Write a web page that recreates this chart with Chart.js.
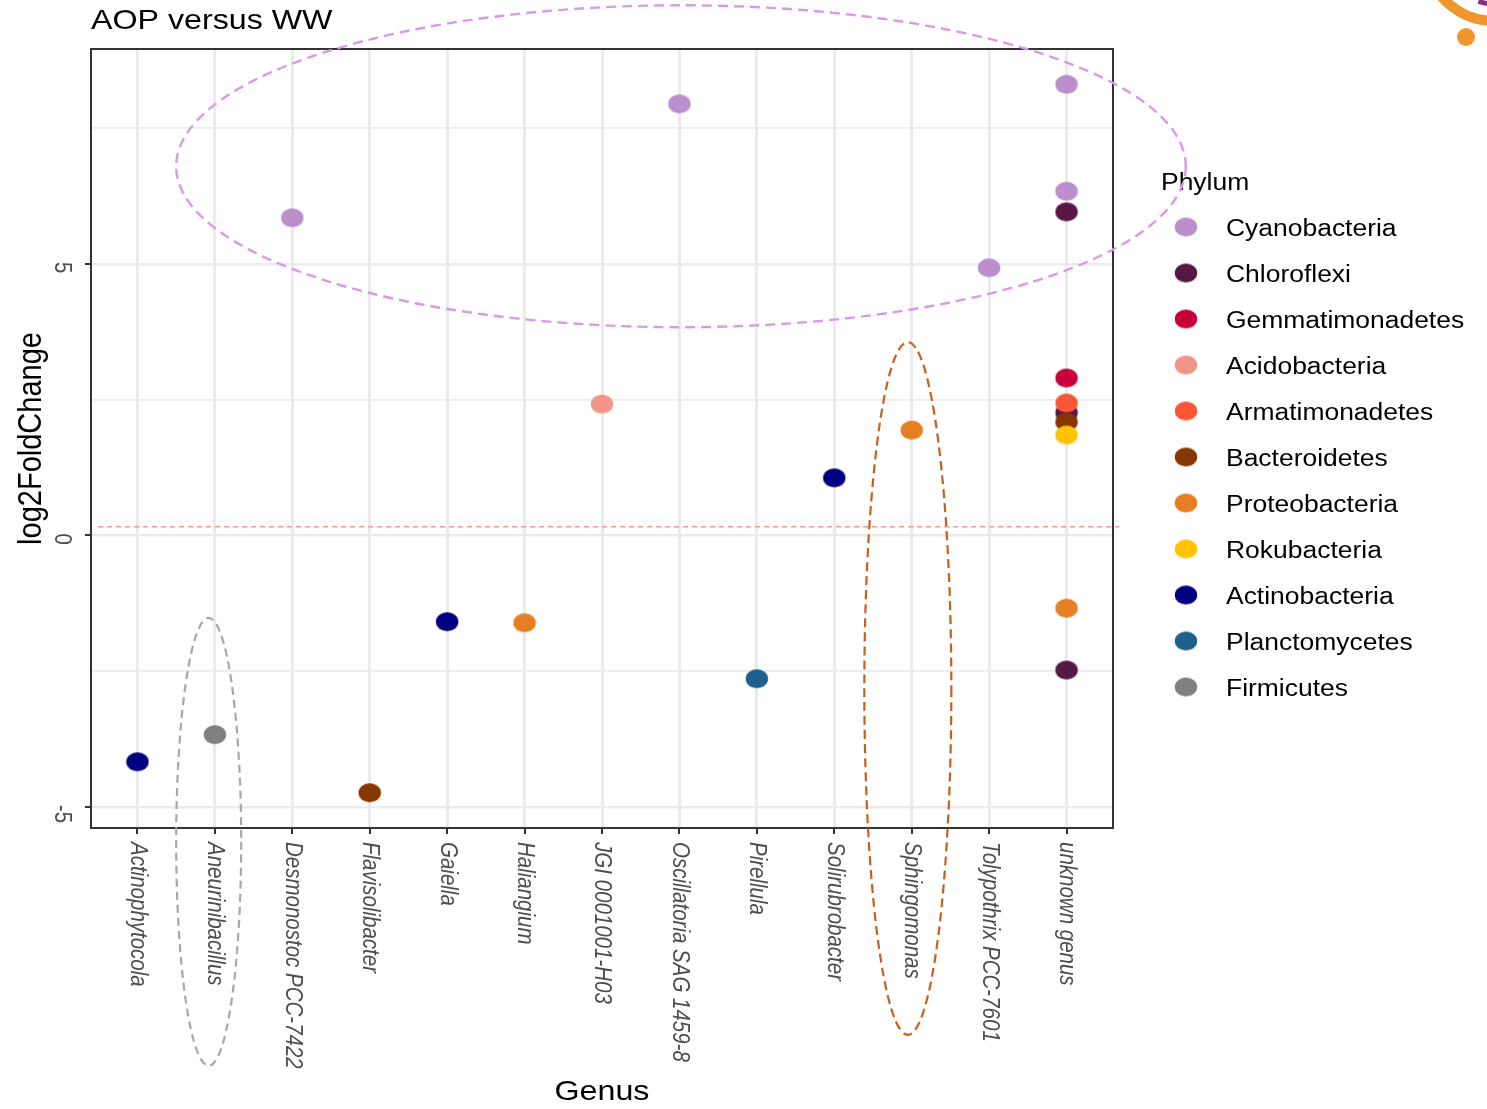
<!DOCTYPE html>
<html>
<head>
<meta charset="utf-8">
<title>AOP versus WW</title>
<script src="https://cdn.jsdelivr.net/npm/chart.js@4/dist/chart.umd.min.js"></script>
<style>
  html, body { margin: 0; padding: 0; background: #ffffff; }
  #wrap { width: 1487px; height: 1109px; position: relative; }
  canvas { display: block; }
</style>
</head>
<body>
<div id="wrap"><canvas id="chart" width="1487" height="1109"></canvas></div>
<script>
// ---- data ---------------------------------------------------------------
const genera = [
  'Actinophytocola', 'Aneurinibacillus', 'Desmonostoc PCC-7422', 'Flavisolibacter',
  'Gaiella', 'Haliangium', 'JGI 0001001-H03', 'Oscillatoria SAG 1459-8',
  'Pirellula', 'Solirubrobacter', 'Sphingomonas', 'Tolypothrix PCC-7601', 'unknown genus'
];

const phyla = [
  'Cyanobacteria', 'Chloroflexi', 'Gemmatimonadetes', 'Acidobacteria', 'Armatimonadetes',
  'Bacteroidetes', 'Proteobacteria', 'Rokubacteria', 'Actinobacteria', 'Planctomycetes', 'Firmicutes'
];

const phylumColors = [
  '#BB8ECC', '#581845', '#C70039', '#F1948A', '#FF5733',
  '#873600', '#E67E22', '#FFC300', '#000080', '#1F618D', '#808080'
];

// one entry per significant ASV
const pointGenus = [
  'Actinophytocola', 'Aneurinibacillus', 'Desmonostoc PCC-7422', 'Flavisolibacter',
  'Gaiella', 'Haliangium', 'JGI 0001001-H03', 'Oscillatoria SAG 1459-8',
  'Pirellula', 'Solirubrobacter', 'Sphingomonas', 'Tolypothrix PCC-7601',
  'unknown genus', 'unknown genus', 'unknown genus', 'unknown genus', 'unknown genus',
  'unknown genus', 'unknown genus', 'unknown genus', 'unknown genus', 'unknown genus'
];
const pointPhylum = [
  'Actinobacteria', 'Firmicutes', 'Cyanobacteria', 'Bacteroidetes',
  'Actinobacteria', 'Proteobacteria', 'Acidobacteria', 'Cyanobacteria',
  'Planctomycetes', 'Actinobacteria', 'Proteobacteria', 'Cyanobacteria',
  'Cyanobacteria', 'Cyanobacteria', 'Chloroflexi', 'Gemmatimonadetes', 'Armatimonadetes',
  'Chloroflexi', 'Bacteroidetes', 'Rokubacteria', 'Proteobacteria', 'Chloroflexi'
];
const pointLog2FC = [
  -4.17, -3.67, 5.85, -4.74,
  -1.59, -1.61, 2.42, 7.95,
  -2.64, 1.06, 1.94, 4.93,
  8.31, 6.34, 5.96, 2.90, 2.44,
  2.26, 2.09, 1.85, -1.34, -2.48
];

const yTicks = [-5, -2.5, 0, 2.5, 5, 7.5];
const yTickLabels = ['-5', '0', '5'];
const yLimits = [-5.39, 8.96];
const thresholdLog2FC = 0.16;

// highlighted groups: centre and half-extent in axis units (x = genus position, y = log2FC)
const highlightGroups = [
  { cx: 8.02, cy: 6.80, rx: 6.52, ry: 2.965, color: '#DC98E8', width: 2.4, dash: [10, 6] },
  { cx: 1.92, cy: -5.645, rx: 0.42, ry: 4.125, color: '#A8A8A8', width: 2.2, dash: [8, 5] },
  { cx: 10.95, cy: -2.82, rx: 0.562, ry: 6.38, color: '#C8601C', width: 2.2, dash: [9, 5] }
];

// ---- helpers ------------------------------------------------------------
const FONT = '"Liberation Sans", Arial, Helvetica, sans-serif';
const STRETCH = 1.15;

function dotImage(color) {
  const c = document.createElement('canvas');
  c.width = 24; c.height = 21;
  const g = c.getContext('2d');
  g.fillStyle = color;
  g.beginPath();
  g.ellipse(12, 10.5, 11.2, 9.6, 0, 0, Math.PI * 2);
  g.fill();
  return c;
}
const dotImages = phylumColors.map(dotImage);

function drawText(ctx, text, x, y, o) {
  ctx.save();
  ctx.font = o.font;
  ctx.fillStyle = o.color || '#000';
  ctx.textAlign = o.align || 'left';
  ctx.textBaseline = o.baseline || 'alphabetic';
  ctx.translate(x, y);
  if (o.angle) {
    ctx.rotate(o.angle);
    ctx.scale(1, STRETCH);
  } else {
    ctx.scale(STRETCH, 1);
  }
  ctx.fillText(text, 0, 0);
  ctx.restore();
}

// ---- datasets, one per phylum (later phyla painted above earlier ones) ---
const datasets = phyla.map((p, k) => ({
  label: p,
  order: -k,
  data: pointLog2FC
    .map((v, i) => ({ x: genera.indexOf(pointGenus[i]) + 1, y: v, p: pointPhylum[i] }))
    .filter(d => d.p === p),
  pointStyle: dotImages[k],
  pointRadius: 10,
  backgroundColor: phylumColors[k],
  borderColor: phylumColors[k],
  showLine: false
}));

// ---- decorations drawn on top of the panel ------------------------------
const panelDecor = {
  id: 'panelDecor',
  afterDraw(chart) {
    const { ctx, chartArea: a, scales } = chart;
    const xs = scales.x, ys = scales.y;

    // threshold line
    ctx.save();
    const ty = ys.getPixelForValue(thresholdLog2FC);
    ctx.strokeStyle = '#FF9696';
    ctx.lineWidth = 1.4;
    ctx.setLineDash([5, 4]);
    ctx.beginPath();
    ctx.moveTo(a.left + 7, ty);
    ctx.lineTo(a.right + 6, ty);
    ctx.stroke();
    ctx.restore();

    // panel border
    ctx.save();
    ctx.strokeStyle = '#333333';
    ctx.lineWidth = 2;
    ctx.strokeRect(a.left, a.top, a.right - a.left, a.bottom - a.top);

    // axis ticks
    ctx.beginPath();
    genera.forEach((g, i) => {
      const px = Math.round(xs.getPixelForValue(i + 1));
      ctx.moveTo(px, a.bottom);
      ctx.lineTo(px, a.bottom + 6);
    });
    yTickLabels.forEach(t => {
      const py = Math.round(ys.getPixelForValue(Number(t)));
      ctx.moveTo(a.left, py);
      ctx.lineTo(a.left - 6, py);
    });
    ctx.stroke();
    ctx.restore();

    // x tick labels (italic, rotated clockwise)
    genera.forEach((g, i) => {
      drawText(ctx, g, xs.getPixelForValue(i + 1), a.bottom + 14, {
        font: 'italic 20.5px ' + FONT, color: '#4D4D4D',
        angle: Math.PI / 2, align: 'left', baseline: 'middle'
      });
    });
    // y tick labels (rotated clockwise)
    yTickLabels.forEach(t => {
      drawText(ctx, t, 62, ys.getPixelForValue(Number(t)) - 2, {
        font: '20.5px ' + FONT, color: '#4D4D4D',
        angle: Math.PI / 2, align: 'left', baseline: 'middle'
      });
    });

    // titles
    drawText(ctx, 'AOP versus WW', a.left, 29, { font: '28px ' + FONT });
    drawText(ctx, 'Genus', (a.left + a.right) / 2, 1100, { font: '28px ' + FONT, align: 'center' });
    drawText(ctx, 'log2FoldChange', 41, (a.top + a.bottom) / 2, {
      font: '29px ' + FONT, angle: -Math.PI / 2, align: 'center'
    });

    // legend
    drawText(ctx, 'Phylum', 1161, 190, { font: '23px ' + FONT });
    phyla.forEach((p, k) => {
      const cy = 227 + k * 46;
      const img = dotImages[k];
      ctx.drawImage(img, 1186 - img.width / 2, cy - img.height / 2);
      drawText(ctx, p, 1226, cy + 8.5, { font: '23px ' + FONT });
    });

    // highlighted groups
    highlightGroups.forEach(h => {
      const cx = xs.getPixelForValue(h.cx);
      const cy = ys.getPixelForValue(h.cy);
      const rx = Math.abs(xs.getPixelForValue(h.cx + h.rx) - cx);
      const ry = Math.abs(ys.getPixelForValue(h.cy + h.ry) - cy);
      ctx.save();
      ctx.strokeStyle = h.color;
      ctx.lineWidth = h.width;
      ctx.setLineDash(h.dash);
      ctx.beginPath();
      ctx.ellipse(cx, cy, rx, ry, 0, 0, Math.PI * 2);
      ctx.stroke();
      ctx.restore();
    });

    // corner emblem
    ctx.save();
    ctx.strokeStyle = '#F0962C';
    ctx.lineWidth = 10;
    ctx.beginPath();
    ctx.arc(1495, -50, 71, Math.PI * 0.5, Math.PI * 0.98);
    ctx.stroke();
    ctx.strokeStyle = '#8E2C8C';
    ctx.lineWidth = 5;
    ctx.beginPath();
    ctx.arc(1495, -50, 54, Math.PI * 0.38, Math.PI * 0.6);
    ctx.stroke();
    ctx.fillStyle = '#F0962C';
    ctx.beginPath();
    ctx.arc(1466, 37, 9, 0, Math.PI * 2);
    ctx.fill();
    ctx.restore();
  }
};

// ---- chart --------------------------------------------------------------
new Chart(document.getElementById('chart'), {
  type: 'scatter',
  data: { datasets },
  options: {
    responsive: false,
    animation: false,
    devicePixelRatio: 1,
    layout: { padding: { left: 91, top: 49, right: 374, bottom: 281 } },
    plugins: { legend: { display: false }, tooltip: { enabled: false } },
    scales: {
      x: {
        type: 'linear',
        min: 0.4,
        max: genera.length + 0.6,
        afterBuildTicks: s => { s.ticks = genera.map((g, i) => ({ value: i + 1 })); },
        afterFit: s => { s.height = 0; },
        ticks: { display: false },
        border: { display: false },
        grid: { color: '#EBEBEB', lineWidth: 3, drawTicks: false }
      },
      y: {
        type: 'linear',
        min: yLimits[0],
        max: yLimits[1],
        afterBuildTicks: s => { s.ticks = yTicks.map(v => ({ value: v })); },
        afterFit: s => { s.width = 0; },
        ticks: { display: false },
        border: { display: false },
        grid: {
          color: '#EBEBEB',
          lineWidth: c => (c.tick && c.tick.value % 5 === 0 ? 2.6 : 1.8),
          drawTicks: false
        }
      }
    }
  },
  plugins: [panelDecor]
});
</script>
</body>
</html>
